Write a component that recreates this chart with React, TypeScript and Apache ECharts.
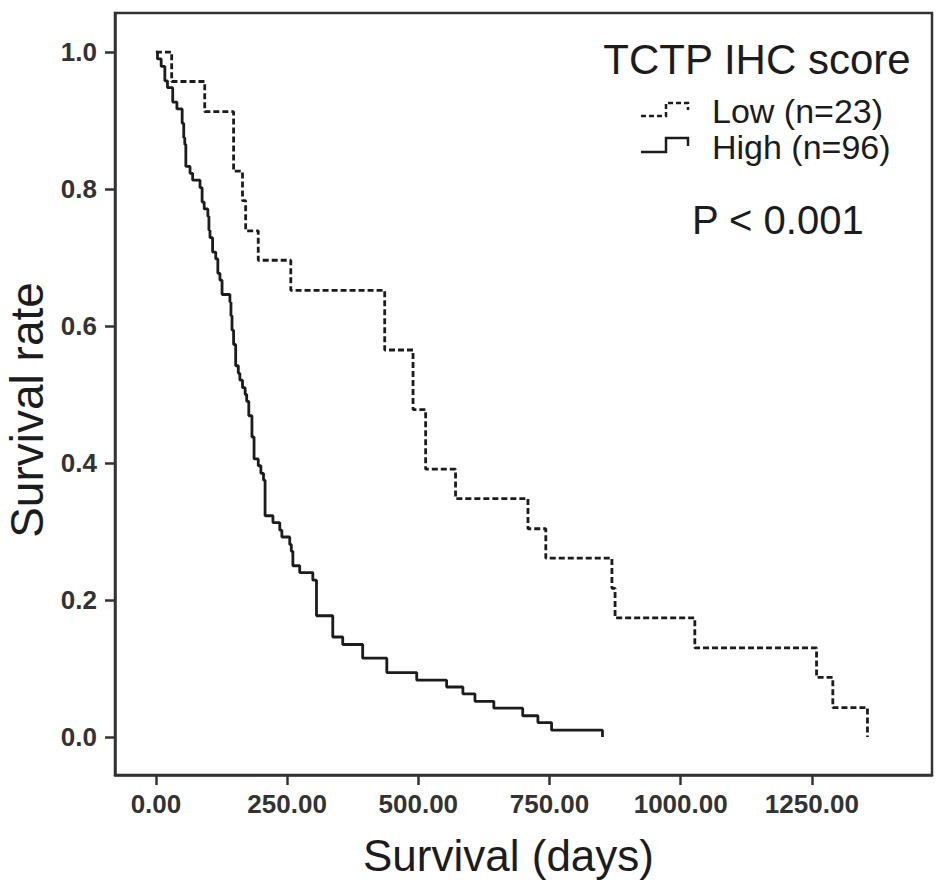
import { useEffect, useRef } from "react"
import * as echarts from "echarts"

// Low TCTP IHC score (n=23): step times (days) and survival after each step
const lowDays = [0, 30, 93, 148, 165, 171, 195, 257, 436, 490, 514, 571, 709, 743, 869, 875, 1027, 1259, 1290, 1356]
const lowSurv = [1.0, 0.957, 0.913, 0.826, 0.783, 0.739, 0.696, 0.652, 0.565, 0.478, 0.391, 0.348, 0.304, 0.261, 0.217, 0.174, 0.13, 0.087, 0.043, 0.0]

// High TCTP IHC score (n=96)
const highDays = [
    0, 3, 10, 17, 22, 32, 40, 50, 53, 55,
    57, 65, 70, 84, 88, 92, 99, 101, 103, 108,
    114, 118, 122, 126, 141, 143, 145, 148, 152, 157,
    160, 165, 170, 173, 177, 183, 187, 195, 200, 205,
    208, 223, 236, 240, 255, 258, 261, 274, 299, 306,
    337, 356, 394, 440, 497, 554, 585, 608, 644, 699,
    728, 754, 851,
]
const highSurv = [
    1.0, 0.99, 0.979, 0.958, 0.948, 0.927, 0.917, 0.896, 0.875, 0.865,
    0.833, 0.823, 0.813, 0.802, 0.781, 0.771, 0.76, 0.74, 0.729, 0.708,
    0.698, 0.677, 0.667, 0.646, 0.635, 0.615, 0.594, 0.573, 0.542, 0.531,
    0.521, 0.51, 0.5, 0.49, 0.469, 0.438, 0.406, 0.396, 0.385, 0.375,
    0.323, 0.313, 0.302, 0.292, 0.281, 0.271, 0.25, 0.24, 0.229, 0.177,
    0.146, 0.135, 0.115, 0.094, 0.083, 0.073, 0.063, 0.052, 0.042, 0.031,
    0.021, 0.01, 0.0,
]

const xTicks = [0, 250, 500, 750, 1000, 1250]
const yTicks = [0, 0.2, 0.4, 0.6, 0.8, 1.0]

const FONT = "Liberation Sans"
const INK = "#1c1c1c"
const AXIS = "#333"

export default function App() {
    const chartRef = useRef<HTMLDivElement>(null)

    useEffect(() => {
        if (!chartRef.current) return
        const chart = echarts.init(chartRef.current, undefined, { renderer: "svg" })

        const option = {
            animation: false,
            backgroundColor: "#fff",
            grid: {
                left: 115,
                right: 13,
                top: 13,
                bottom: 118,
                show: true,
                borderColor: AXIS,
                borderWidth: 2.5,
                outerBoundsMode: "none",
            },
            xAxis: {
                type: "value",
                min: -78,
                max: 1479,
                name: "Survival (days)",
                nameLocation: "middle",
                nameGap: 58,
                nameTextStyle: { fontFamily: FONT, fontSize: 44, color: INK, padding: [0, 30, 0, 0] },
                axisLine: { show: true, onZero: false, lineStyle: { color: AXIS, width: 2.5 } },
                axisTick: { show: true, length: 10, customValues: xTicks, lineStyle: { color: AXIS, width: 2.5 } },
                axisLabel: {
                    customValues: xTicks,
                    margin: 16,
                    fontFamily: FONT,
                    fontSize: 26,
                    fontWeight: "bold",
                    color: "#333",
                    formatter: (v: number) => v.toFixed(2),
                },
                splitLine: { show: false },
            },
            yAxis: {
                type: "value",
                min: -0.0555,
                max: 1.057,
                name: "Survival rate",
                nameLocation: "middle",
                nameGap: 63,
                nameTextStyle: { fontFamily: FONT, fontSize: 46, color: INK, padding: [0, 32, 0, 0] },
                axisLine: { show: true, onZero: false, lineStyle: { color: AXIS, width: 2.5 } },
                axisTick: { show: true, length: 10, customValues: yTicks, lineStyle: { color: AXIS, width: 2.5 } },
                axisLabel: {
                    customValues: yTicks,
                    margin: 18,
                    fontFamily: FONT,
                    fontSize: 26,
                    fontWeight: "bold",
                    color: "#333",
                    formatter: (v: number) => v.toFixed(1),
                },
                splitLine: { show: false },
            },
            series: [
                {
                    name: "Low (n=23)",
                    type: "line",
                    step: "end",
                    symbol: "none",
                    data: lowDays.map((d, i) => [d, lowSurv[i]]),
                    lineStyle: { color: INK, width: 2.8, type: [6, 3] },
                },
                {
                    name: "High (n=96)",
                    type: "line",
                    step: "end",
                    symbol: "none",
                    data: highDays.map((d, i) => [d, highSurv[i]]),
                    lineStyle: { color: INK, width: 2.8 },
                },
            ],
            graphic: [
                {
                    type: "text",
                    x: 757,
                    y: 59,
                    style: {
                        text: "TCTP IHC score",
                        font: `42px "${FONT}"`,
                        fill: INK,
                        align: "center",
                        verticalAlign: "middle",
                    },
                },
                {
                    type: "polyline",
                    shape: { points: [[641, 116], [666, 116], [666, 103], [688, 103], [688, 110]] },
                    style: { stroke: INK, lineWidth: 2.5, fill: "none", lineDash: [5, 3] },
                },
                {
                    type: "text",
                    x: 712,
                    y: 111,
                    style: { text: "Low (n=23)", font: `34px "${FONT}"`, fill: INK, align: "left", verticalAlign: "middle" },
                },
                {
                    type: "polyline",
                    shape: { points: [[641, 152], [666, 152], [666, 138], [688, 138], [688, 146]] },
                    style: { stroke: INK, lineWidth: 2.5, fill: "none" },
                },
                {
                    type: "text",
                    x: 712,
                    y: 147,
                    style: { text: "High (n=96)", font: `34px "${FONT}"`, fill: INK, align: "left", verticalAlign: "middle" },
                },
                {
                    type: "text",
                    x: 692,
                    y: 220,
                    style: { text: "P < 0.001", font: `40px "${FONT}"`, fill: INK, align: "left", verticalAlign: "middle" },
                },
            ],
        }

        chart.setOption(option as any)

        return () => {
            chart.dispose()
        }
    }, [])

    return <div ref={chartRef} style={{ position: "fixed", left: 0, top: 0, width: 945, height: 893 }} />
}
